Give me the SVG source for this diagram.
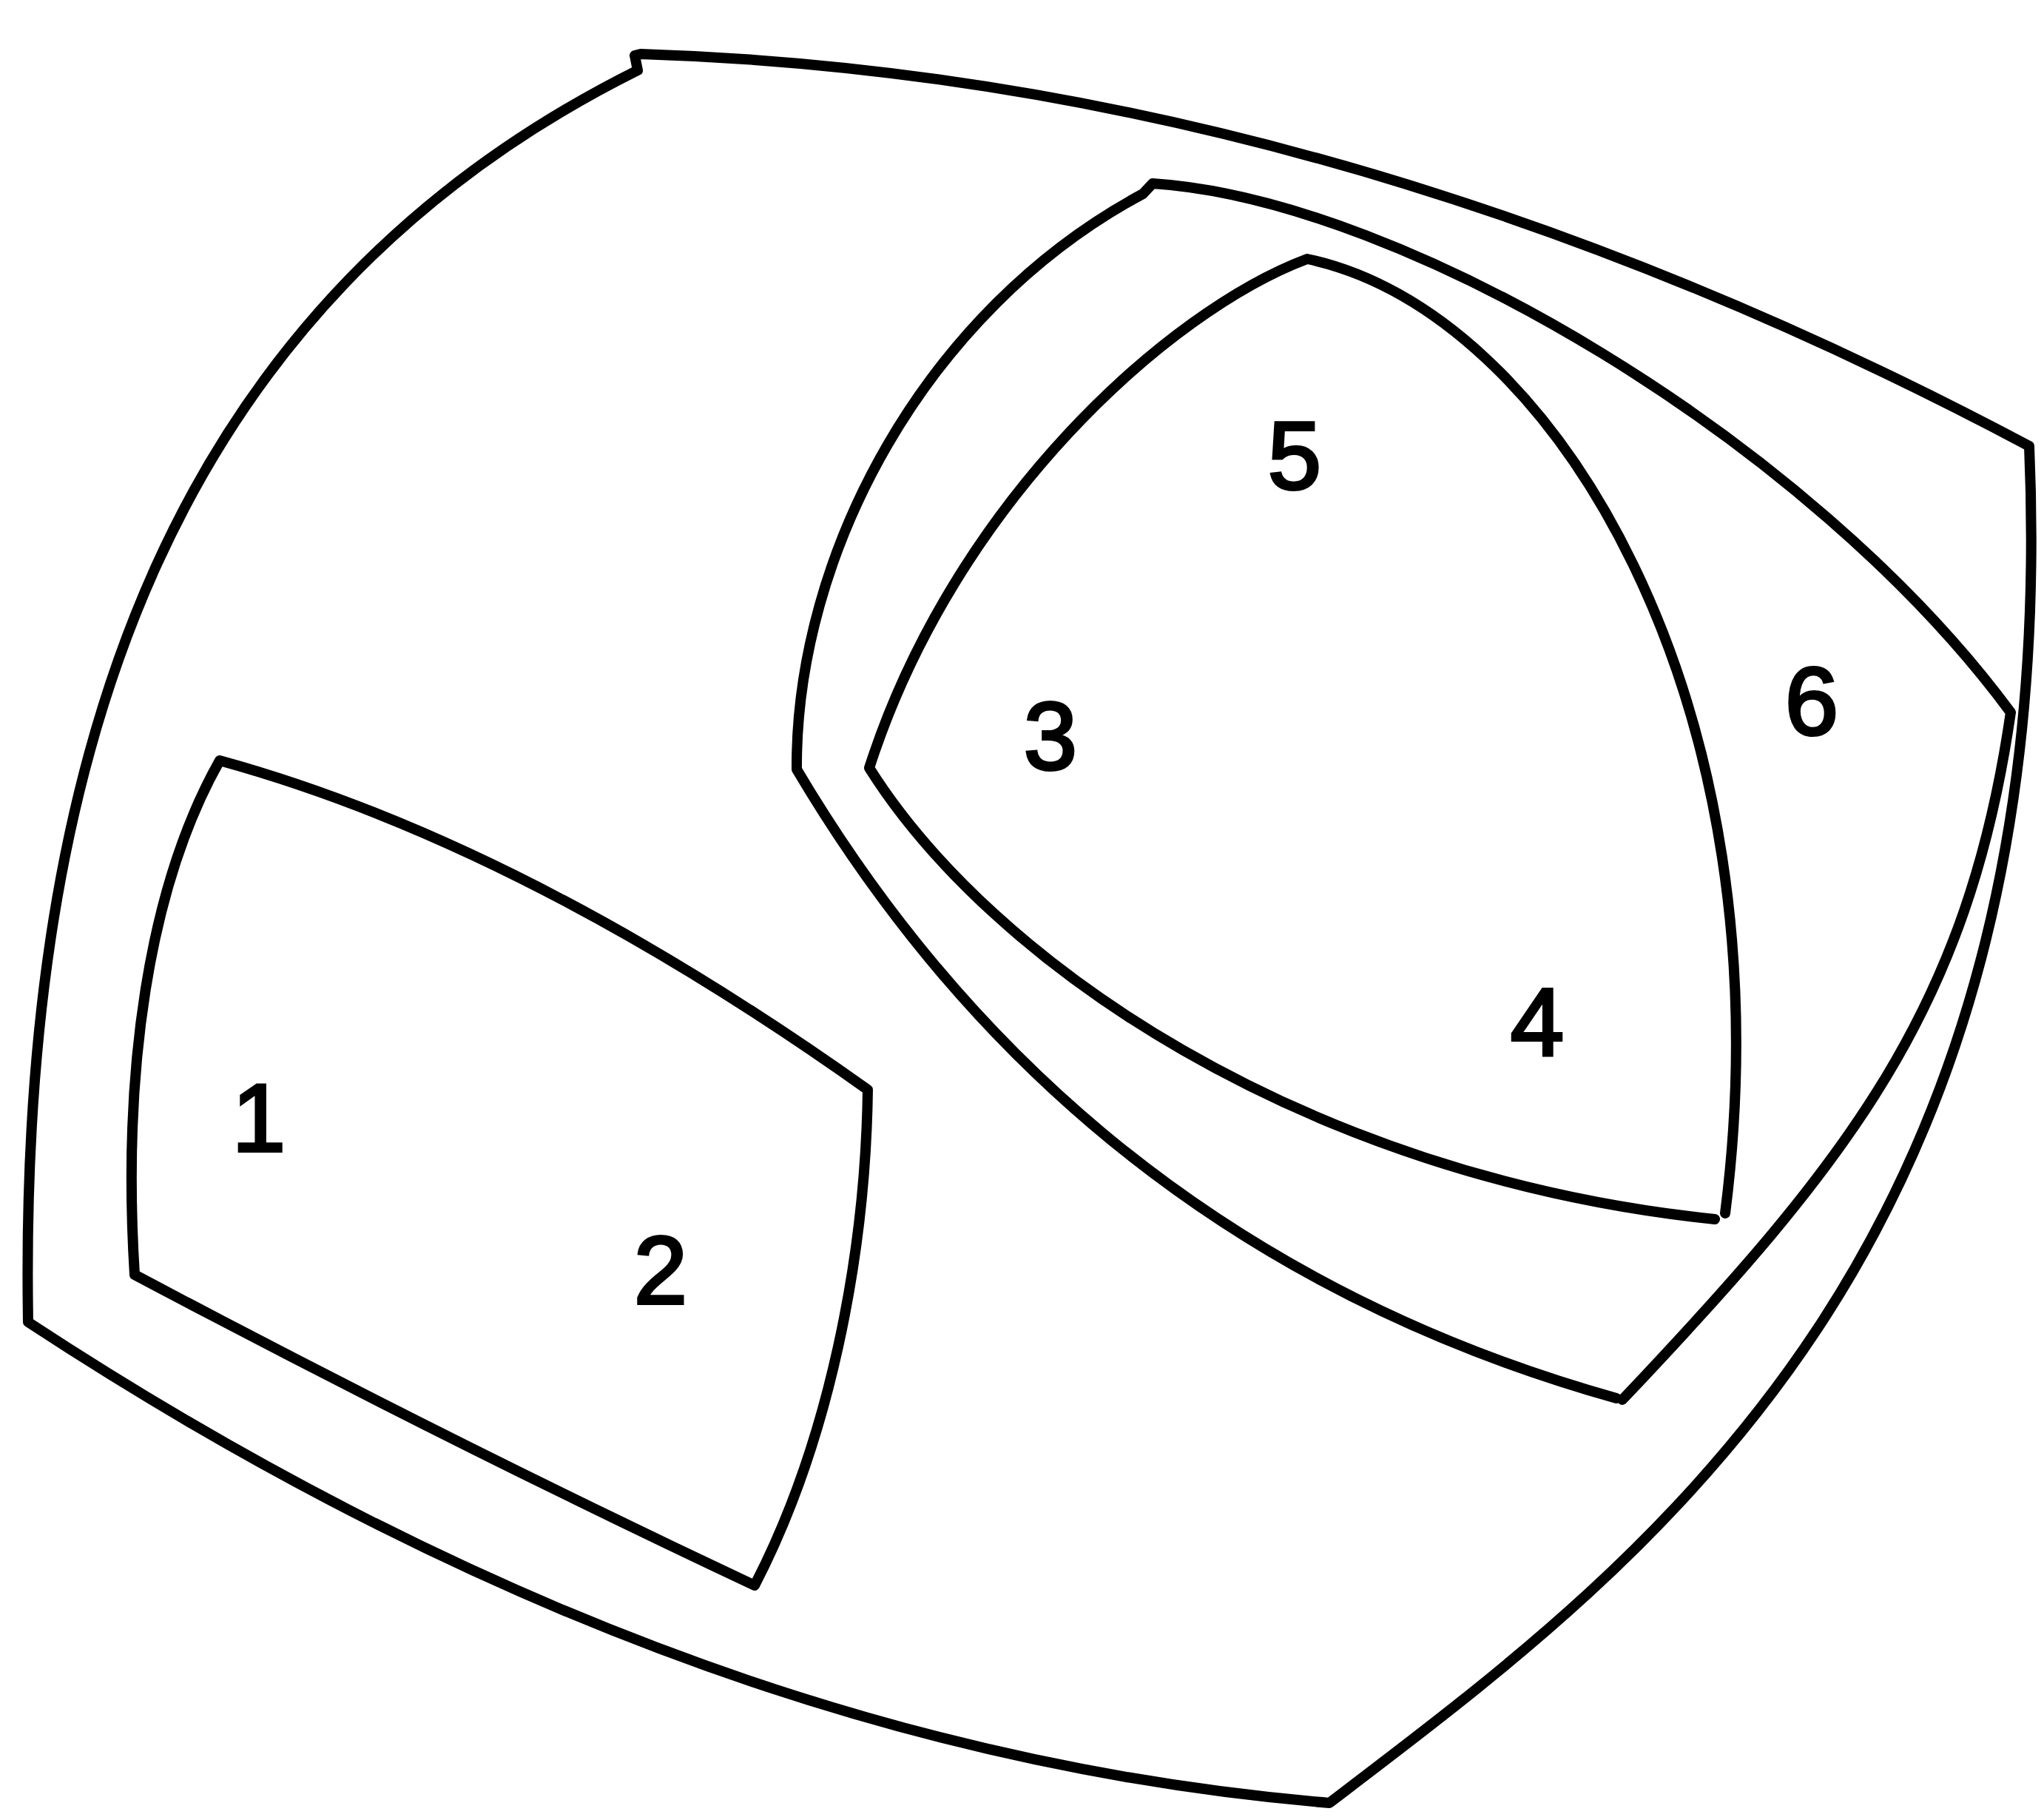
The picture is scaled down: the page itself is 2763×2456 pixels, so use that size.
<svg xmlns="http://www.w3.org/2000/svg" width="2763" height="2456" viewBox="0 0 2763 2456">
<style>
.b{fill:none;stroke:#000;stroke-width:14;stroke-linejoin:round;stroke-linecap:round}
.t{font-family:"Liberation Sans",Arial,sans-serif;font-size:130px;fill:#000;stroke:#000;stroke-width:4;text-anchor:middle}
</style>
<rect width="2763" height="2456" fill="#fff"/>
<g id="outer">
<path class="b" d="M866,73 Q1801,102 2743,603 C2790,1700 2224,2112 1797,2437 Q917,2364 38,1787 C25,1020 230,410 862,95 L858,75 Z"/>
</g>
<g id="middle">
<path class="b" d="M1558,248 C1900,270 2450,600 2718,963 C2660,1365 2500,1568 2193,1892 M2185,1890 Q1461,1687 1077,1040 C1075,750 1250,420 1545,262 L1558,248"/>
</g>
<g id="inner">
<path class="b" d="M2318,1648 C1760,1590 1340,1300 1175,1038 C1290,680 1580,420 1767,350 C2100,420 2420,950 2332,1640"/>
</g>
<g id="rect">
<path class="b" d="M297,1028 Q705,1140 1173,1473 C1170,1700 1120,1950 1020,2143 Q610,1950 182,1723 C165,1450 200,1200 297,1028 Z"/>
</g>
<g id="labels">
<text class="t" x="350" y="1556">1</text>
<text class="t" x="893" y="1762">2</text>
<text class="t" x="1420" y="1040">3</text>
<text class="t" x="2078" y="1426">4</text>
<text class="t" x="1750" y="661">5</text>
<text class="t" x="2449" y="993">6</text>
</g>
</svg>
